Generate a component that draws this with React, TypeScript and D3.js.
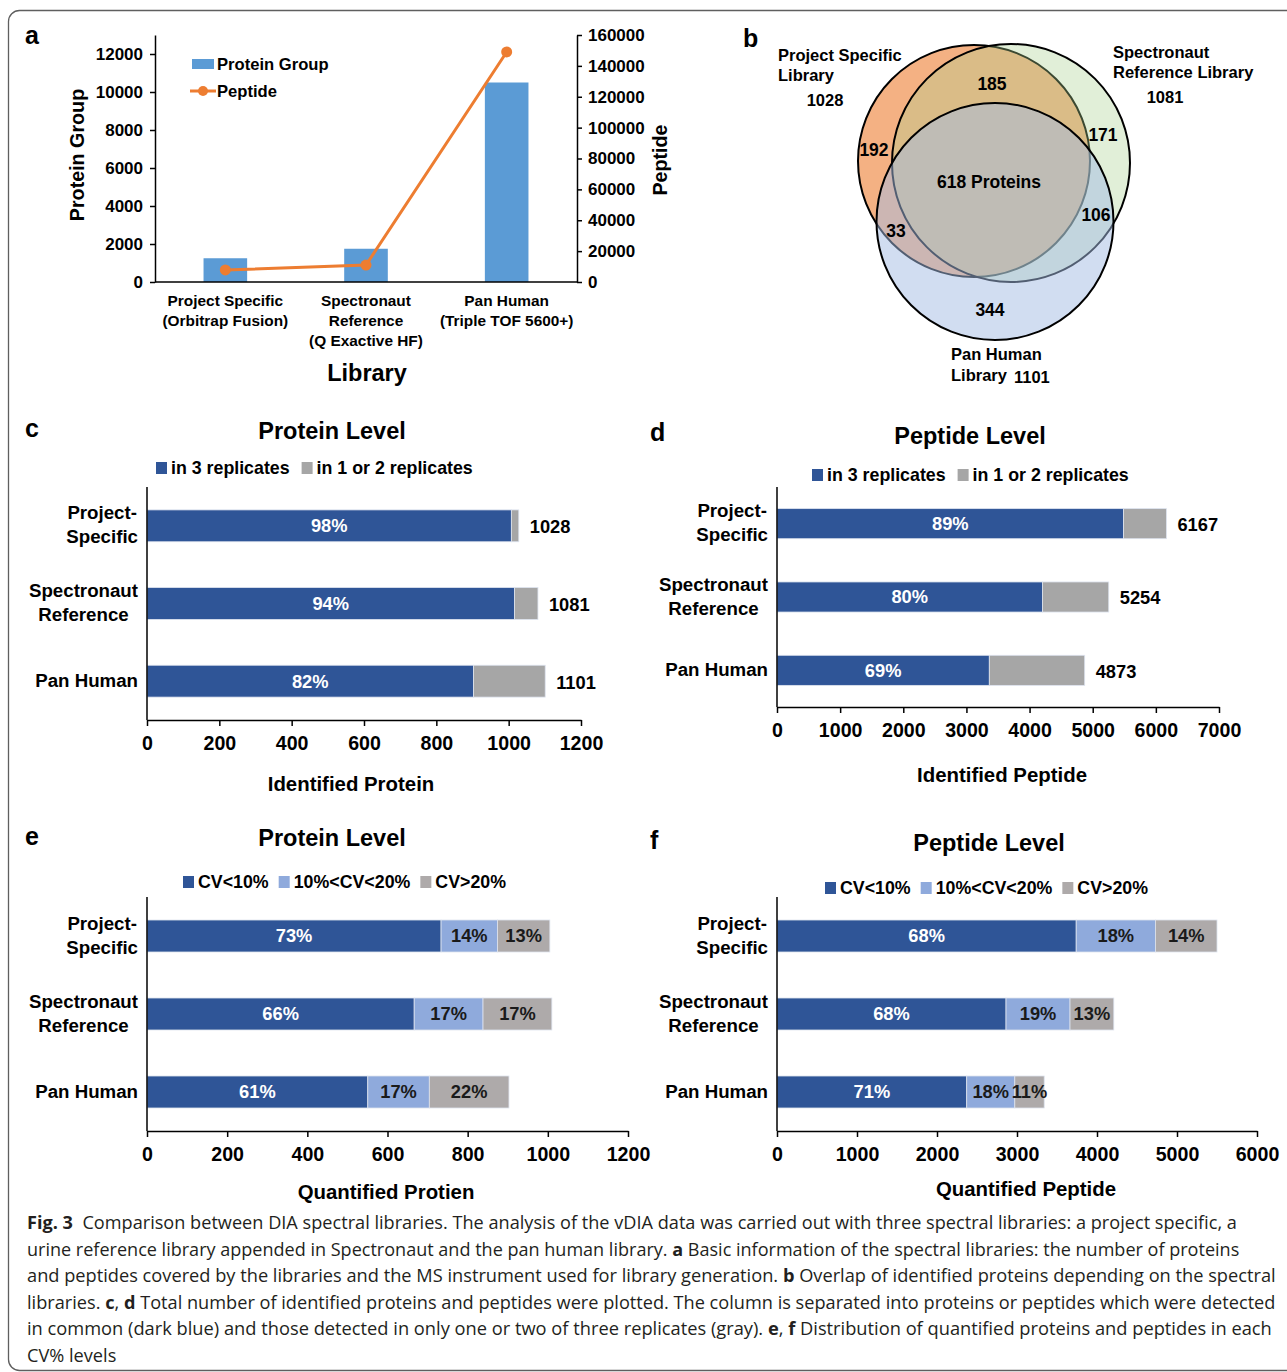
import React, { useEffect, useRef } from "react";
import * as d3 from "d3";

const W = 1287;
const H = 1372;
const FONT = "'Liberation Sans', Arial, Helvetica, sans-serif";
const CAPTION_FONT = "'Open Sans', 'Noto Sans', sans-serif";

// ---- a: library overview ----
const libraryNames = [
  ["Project Specific", "(Orbitrap Fusion)"],
  ["Spectronaut", "Reference", "(Q Exactive HF)"],
  ["Pan Human", "(Triple TOF 5600+)"],
];
const proteinGroupCounts = [1250, 1750, 10500];
const peptideCounts = [7800, 11000, 149000];
const proteinGroupTicks = [0, 2000, 4000, 6000, 8000, 10000, 12000];
const peptideTicks = [0, 20000, 40000, 60000, 80000, 100000, 120000, 140000, 160000];

// ---- b: overlap of identified proteins ----
const vennSetNames = [
  ["Project Specific", "Library"],
  ["Spectronaut", "Reference Library"],
  ["Pan Human", "Library"],
];
const vennSetTotals = [1028, 1081, 1101];
// PS only, SR only, PH only, PS∩SR, PS∩PH, SR∩PH, all three
const vennRegionCounts = [192, 171, 344, 185, 33, 106, 618];

// ---- c, d: identification across replicates ----
const replicateCategories = [["Project-", "Specific"], ["Spectronaut", "Reference"], ["Pan Human"]];
const replicateLegend = ["in 3 replicates", "in 1 or 2 replicates"];
const proteinTotals = [1028, 1081, 1101];
const proteinInAllPct = [98, 94, 82];
const peptideTotals = [6167, 5254, 4873];
const peptideInAllPct = [89, 80, 69];
const proteinTicks = [0, 200, 400, 600, 800, 1000, 1200];
const peptideIdTicks = [0, 1000, 2000, 3000, 4000, 5000, 6000, 7000];

// ---- e, f: CV distribution ----
const cvLegend = ["CV<10%", "10%<CV<20%", "CV>20%"];
const cvProteinTotals = [1005, 1010, 903];
const cvProteinPct = [[73, 14, 13], [66, 17, 17], [61, 17, 22]];
const cvPeptideTotals = [5500, 4210, 3340];
const cvPeptidePct = [[68, 18, 14], [68, 19, 13], [71, 18, 11]];
const peptideQuantTicks = [0, 1000, 2000, 3000, 4000, 5000, 6000];

const DARK_BLUE = "#2F5597";
const LIGHT_BLUE = "#8FAADC";
const GRAY = "#A6A6A6";
const WARM_GRAY = "#AEAAAA";
const BAR_BLUE = "#5B9BD5";
const ORANGE = "#ED7D31";

type Sel = d3.Selection<any, any, any, any>;

function addText(g: Sel, x: number, y: number, s: string, size: number, opts: any = {}) {
  return g
    .append("text")
    .attr("x", x)
    .attr("y", y)
    .attr("dy", "0.35em")
    .attr("font-size", size)
    .attr("font-weight", opts.weight ?? "bold")
    .attr("text-anchor", opts.anchor ?? "start")
    .attr("fill", opts.fill ?? "#000")
    .attr("font-family", opts.family ?? FONT)
    .text(s);
}

// multi-line label, lines centred on each other, block right-aligned at rightX
function blockLabel(g: Sel, rightX: number, cy: number, lines: string[], size: number, gap: number) {
  const n = lines.length;
  const ts = lines.map((l, i) => addText(g, 0, cy + (i - (n - 1) / 2) * gap, l, size, { anchor: "middle" }));
  const w = d3.max(ts, (t) => (t.node() as SVGTextElement).getComputedTextLength()) || 0;
  ts.forEach((t) => t.attr("x", rightX - w / 2));
}

function legendRow(g: Sel, x: number, cy: number, items: { label: string; color: string }[], size: number, gapBetween: number) {
  let cx = x;
  const sq = 12;
  items.forEach((it) => {
    g.append("rect").attr("x", cx).attr("y", cy - sq / 2).attr("width", sq - 1).attr("height", sq).attr("fill", it.color);
    const t = addText(g, cx + sq + 3, cy, it.label, size);
    cx += sq + 3 + (t.node() as SVGTextElement).getComputedTextLength() + gapBetween;
  });
}

function styleAxis(ax: Sel, size: number) {
  ax.selectAll("path,line").attr("stroke", "#000").attr("stroke-width", 1.5);
  ax.selectAll("text")
    .attr("font-size", size)
    .attr("font-weight", "bold")
    .attr("font-family", FONT)
    .attr("fill", "#000");
}

interface HBarCfg {
  letter: string;
  letterX: number;
  letterY: number;
  x0: number;
  x1: number;
  yTop: number;
  yBot: number;
  max: number;
  ticks: number[];
  totals: number[];
  shares: number[][];
  labeled: boolean[];
  colors: string[];
  labelColors: string[];
  showTotals: boolean;
  title: string;
  titleX: number;
  titleY: number;
  legend: string[];
  legendX: number;
  legendY: number;
  legendGap: number;
  xTitle: string;
  xTitleX: number;
  xTitleY: number;
}

function drawHBar(svg: Sel, c: HBarCfg) {
  const g = svg.append("g");
  addText(g, c.letterX, c.letterY, c.letter, 25);
  addText(g, c.titleX, c.titleY, c.title, 23.5, { anchor: "middle" });
  legendRow(
    g,
    c.legendX,
    c.legendY,
    c.legend.map((l, i) => ({ label: l, color: c.colors[i] })),
    17.8,
    c.legendGap
  );

  const x = d3.scaleLinear().domain([0, c.max]).range([c.x0, c.x1]);
  const y = d3
    .scaleBand<number>()
    .domain(d3.range(c.totals.length))
    .range([c.yTop, c.yBot])
    .paddingInner(0.59)
    .paddingOuter(0.295);

  c.totals.forEach((total, i) => {
    let acc = 0;
    const by = y(i)!;
    const bh = y.bandwidth();
    c.shares[i].forEach((p, j) => {
      const v = (total * p) / 100;
      const xa = x(acc);
      const xb = x(acc + v);
      g.append("rect")
        .attr("x", xa)
        .attr("y", by)
        .attr("width", xb - xa)
        .attr("height", bh)
        .attr("fill", c.colors[j])
        .attr("stroke", "#dde3ee")
        .attr("stroke-width", 0.8);
      if (c.labeled[j]) {
        addText(g, (xa + xb) / 2, by + bh / 2, `${p}%`, 18.3, { anchor: "middle", fill: c.labelColors[j] });
      }
      acc += v;
    });
    if (c.showTotals) {
      addText(g, x(total) + 11, by + bh / 2 + 1, String(total), 18.3);
    }
    blockLabel(g, c.x0 - 9, by + bh / 2 - 1, replicateCategories[i], 18.7, 24);
  });

  const ax = g
    .append("g")
    .attr("transform", `translate(0,${c.yBot})`)
    .call(d3.axisBottom(x).tickValues(c.ticks).tickFormat(d3.format("d")).tickSize(6).tickSizeOuter(0).tickPadding(10));
  styleAxis(ax, 19.6);
  g.append("line")
    .attr("x1", c.x0)
    .attr("x2", c.x0)
    .attr("y1", c.yTop)
    .attr("y2", c.yBot)
    .attr("stroke", "#000")
    .attr("stroke-width", 1.5);

  addText(g, c.xTitleX, c.xTitleY, c.xTitle, 20.4, { anchor: "middle" });
}

function drawLibraries(svg: Sel) {
  const g = svg.append("g");
  addText(g, 25, 35, "a", 25);
  const left = 155;
  const right = 577;
  const top = 35;
  const bottom = 282;

  const x = d3.scaleBand<number>().domain(d3.range(3)).range([left, right]).paddingInner(0.69).paddingOuter(0.345);
  const yL = d3.scaleLinear().domain([0, 13000]).range([bottom, top]);
  const yR = d3.scaleLinear().domain([0, 160000]).range([bottom, top]);

  proteinGroupCounts.forEach((v, i) => {
    g.append("rect")
      .attr("x", x(i)!)
      .attr("y", yL(v))
      .attr("width", x.bandwidth())
      .attr("height", bottom - yL(v))
      .attr("fill", BAR_BLUE);
  });

  const axL = g
    .append("g")
    .attr("transform", `translate(${left},0)`)
    .call(d3.axisLeft(yL).tickValues(proteinGroupTicks).tickFormat(d3.format("d")).tickSize(5).tickSizeOuter(0).tickPadding(7));
  styleAxis(axL, 17);
  const axR = g
    .append("g")
    .attr("transform", `translate(${right},0)`)
    .call(d3.axisRight(yR).tickValues(peptideTicks).tickFormat(d3.format("d")).tickSize(5).tickSizeOuter(0).tickPadding(6));
  styleAxis(axR, 17);
  g.append("line").attr("x1", left).attr("x2", right).attr("y1", bottom).attr("y2", bottom).attr("stroke", "#000").attr("stroke-width", 1.5);

  const line = d3
    .line<number>()
    .x((_, i) => x(i)! + x.bandwidth() / 2)
    .y((d) => yR(d));
  g.append("path").attr("d", line(peptideCounts)!).attr("fill", "none").attr("stroke", ORANGE).attr("stroke-width", 3);
  peptideCounts.forEach((v, i) => {
    g.append("circle").attr("cx", x(i)! + x.bandwidth() / 2).attr("cy", yR(v)).attr("r", 5.5).attr("fill", ORANGE);
  });

  libraryNames.forEach((lines, i) => {
    lines.forEach((l, k) => addText(g, x(i)! + x.bandwidth() / 2, 301 + k * 20, l, 15.4, { anchor: "middle" }));
  });

  // legend
  g.append("rect").attr("x", 192).attr("y", 59).attr("width", 22).attr("height", 10).attr("fill", BAR_BLUE);
  addText(g, 217, 64, "Protein Group", 16.6);
  g.append("line").attr("x1", 190).attr("x2", 216).attr("y1", 91).attr("y2", 91).attr("stroke", ORANGE).attr("stroke-width", 3);
  g.append("circle").attr("cx", 203).attr("cy", 91).attr("r", 5).attr("fill", ORANGE);
  addText(g, 217, 91, "Peptide", 16.6);

  addText(g, 0, 0, "Protein Group", 19.7, { anchor: "middle" }).attr("transform", "translate(77,155) rotate(-90)");
  addText(g, 0, 0, "Peptide", 19.7, { anchor: "middle" }).attr("transform", "translate(660,160) rotate(-90)");
  addText(g, 367, 373, "Library", 23.5, { anchor: "middle" });
}

function drawVenn(svg: Sel) {
  const g = svg.append("g");
  addText(g, 743, 38, "b", 25);
  const circles = [
    { cx: 974, cy: 161, r: 116, fill: ORANGE, op: 0.6 },
    { cx: 1011, cy: 163, r: 119, fill: "#A9D18E", op: 0.35 },
    { cx: 995, cy: 221.5, r: 118.5, fill: "#A4BCE4", op: 0.5 },
  ];
  circles.forEach((c) => {
    g.append("circle")
      .attr("cx", c.cx)
      .attr("cy", c.cy)
      .attr("r", c.r)
      .attr("fill", c.fill)
      .attr("fill-opacity", c.op)
      .attr("stroke", "#000")
      .attr("stroke-width", 2);
  });

  // set names and totals
  vennSetNames[0].forEach((l, k) => addText(g, 778, 55 + k * 20, l, 16.5));
  addText(g, 825, 100, String(vennSetTotals[0]), 16.5, { anchor: "middle" });
  vennSetNames[1].forEach((l, k) => addText(g, 1113, 52 + k * 20, l, 16.5));
  addText(g, 1165, 97, String(vennSetTotals[1]), 16.5, { anchor: "middle" });
  vennSetNames[2].forEach((l, k) => addText(g, 951, 354 + k * 21, l, 16.5));
  addText(g, 1014, 377, String(vennSetTotals[2]), 16.5);

  const regionPos = [
    [874, 150],
    [1103, 135],
    [990, 310],
    [992, 84],
    [896, 231],
    [1096, 215],
    [989, 182],
  ];
  vennRegionCounts.forEach((v, i) => {
    const label = i === 6 ? `${v} Proteins` : String(v);
    addText(g, regionPos[i][0], regionPos[i][1], label, 17.5, { anchor: "middle" });
  });
}

const captionLines: [string, boolean][][] = [
  [["Fig. 3", true], ["  Comparison between DIA spectral libraries. The analysis of the vDIA data was carried out with three spectral libraries: a project specific, a", false]],
  [["urine reference library appended in Spectronaut and the pan human library. ", false], ["a", true], [" Basic information of the spectral libraries: the number of proteins", false]],
  [["and peptides covered by the libraries and the MS instrument used for library generation. ", false], ["b", true], [" Overlap of identified proteins depending on the spectral", false]],
  [["libraries. ", false], ["c", true], [", ", false], ["d", true], [" Total number of identified proteins and peptides were plotted. The column is separated into proteins or peptides which were detected", false]],
  [["in common (dark blue) and those detected in only one or two of three replicates (gray). ", false], ["e", true], [", ", false], ["f", true], [" Distribution of quantified proteins and peptides in each", false]],
  [["CV% levels", false]],
];
const captionEnds = [1238, 1240, 1276, 1276, 1273];

function drawCaption(svg: Sel) {
  const x0 = 27;
  const rows = captionLines.map((parts, i) => {
    const row = svg.append("g").attr("transform", `translate(${x0},${1229 + i * 26.6})`);
    const t = row
      .append("text")
      .attr("x", 0)
      .attr("y", 0)
      .attr("font-size", 18.5)
      .attr("font-family", CAPTION_FONT)
      .attr("fill", "#231f20")
      .style("white-space", "pre");
    parts.forEach(([s, b]) => {
      t.append("tspan").attr("font-weight", b ? "bold" : "normal").text(s);
    });
    return { row, t };
  });
  // the caption face is condensed: squeeze each line horizontally to its measure
  const natural = rows.map(({ t }) => (t.node() as SVGTextElement).getComputedTextLength());
  const ratios = captionEnds.map((e, i) => (e - x0) / natural[i]);
  const k = d3.mean(ratios) || 1;
  rows.forEach(({ row }, i) => {
    const s = i < captionEnds.length ? ratios[i] : k;
    row.attr("transform", `translate(${x0},${1229 + i * 26.6}) scale(${s},1)`);
  });
}

function drawAll(svg: Sel) {
  svg.append("rect").attr("width", W).attr("height", H).attr("fill", "#fff");
  svg
    .append("rect")
    .attr("x", 8.5)
    .attr("y", 10.5)
    .attr("width", 1300)
    .attr("height", 1360)
    .attr("rx", 11)
    .attr("fill", "none")
    .attr("stroke", "#5f5f5f")
    .attr("stroke-width", 1.3);

  drawLibraries(svg);
  drawVenn(svg);

  drawHBar(svg, {
    letter: "c", letterX: 25, letterY: 428,
    x0: 147, x1: 581, yTop: 487, yBot: 720, max: 1200, ticks: proteinTicks,
    totals: proteinTotals, shares: proteinInAllPct.map((p) => [p, 100 - p]), labeled: [true, false],
    colors: [DARK_BLUE, GRAY], labelColors: ["#fff", "#000"], showTotals: true,
    title: "Protein Level", titleX: 332, titleY: 431,
    legend: replicateLegend, legendX: 156, legendY: 468, legendGap: 12,
    xTitle: "Identified Protein", xTitleX: 351, xTitleY: 784,
  });
  drawHBar(svg, {
    letter: "d", letterX: 650, letterY: 432,
    x0: 777, x1: 1219, yTop: 487, yBot: 707, max: 7000, ticks: peptideIdTicks,
    totals: peptideTotals, shares: peptideInAllPct.map((p) => [p, 100 - p]), labeled: [true, false],
    colors: [DARK_BLUE, GRAY], labelColors: ["#fff", "#000"], showTotals: true,
    title: "Peptide Level", titleX: 970, titleY: 436,
    legend: replicateLegend, legendX: 812, legendY: 475, legendGap: 12,
    xTitle: "Identified Peptide", xTitleX: 1002, xTitleY: 775,
  });
  drawHBar(svg, {
    letter: "e", letterX: 25, letterY: 836,
    x0: 147, x1: 628, yTop: 897, yBot: 1131, max: 1200, ticks: proteinTicks,
    totals: cvProteinTotals, shares: cvProteinPct, labeled: [true, true, true],
    colors: [DARK_BLUE, LIGHT_BLUE, WARM_GRAY], labelColors: ["#fff", "#1a1a1a", "#1a1a1a"], showTotals: false,
    title: "Protein Level", titleX: 332, titleY: 838,
    legend: cvLegend, legendX: 183, legendY: 882, legendGap: 10,
    xTitle: "Quantified Protien", xTitleX: 386, xTitleY: 1192,
  });
  drawHBar(svg, {
    letter: "f", letterX: 650, letterY: 840,
    x0: 777, x1: 1257, yTop: 897, yBot: 1131, max: 6000, ticks: peptideQuantTicks,
    totals: cvPeptideTotals, shares: cvPeptidePct, labeled: [true, true, true],
    colors: [DARK_BLUE, LIGHT_BLUE, WARM_GRAY], labelColors: ["#fff", "#1a1a1a", "#1a1a1a"], showTotals: false,
    title: "Peptide Level", titleX: 989, titleY: 843,
    legend: cvLegend, legendX: 825, legendY: 888, legendGap: 10,
    xTitle: "Quantified Peptide", xTitleX: 1026, xTitleY: 1189,
  });

  drawCaption(svg);
}

export default function App() {
  const ref = useRef<SVGSVGElement>(null);
  useEffect(() => {
    const svg = d3.select(ref.current);
    svg.selectAll("*").remove();
    drawAll(svg as any);
  }, []);
  return (
    <svg
      ref={ref}
      width={W}
      height={H}
      viewBox={`0 0 ${W} ${H}`}
      style={{ position: "absolute", left: 0, top: 0, display: "block" }}
    />
  );
}
